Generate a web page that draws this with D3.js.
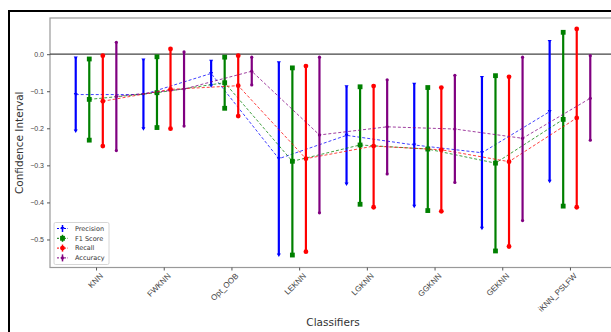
<!DOCTYPE html>
<html><head><meta charset="utf-8">
<script src="https://cdn.jsdelivr.net/npm/d3@7"></script>
<style>body{margin:0;background:#fff;}svg{display:block;font-family:"DejaVu Sans",sans-serif;}</style>
</head><body>
<svg id="c" width="611" height="332"></svg>
<script>
const categories = ["KNN","FWKNN","Opt_OOB","LEKNN","LGKNN","GGKNN","GEKNN","iKNN_PSLFW"];
const seriesNames = ["Precision","F1 Score","Recall","Accuracy"];
const seriesColors = ["#0000ff","#008000","#ff0000","#800080"];
// mean, lower, upper per classifier
const precisionMean = [-0.109,-0.109,-0.052,-0.282,-0.219,-0.245,-0.266,-0.155];
const precisionLow  = [-0.207,-0.201,-0.085,-0.542,-0.350,-0.410,-0.470,-0.343];
const precisionHigh = [-0.010,-0.016,-0.019,-0.023,-0.088,-0.081,-0.063,0.034];
const f1Mean = [-0.122,-0.104,-0.077,-0.289,-0.245,-0.256,-0.294,-0.176];
const f1Low  = [-0.232,-0.198,-0.146,-0.542,-0.405,-0.422,-0.531,-0.410];
const f1High = [-0.013,-0.007,-0.008,-0.037,-0.088,-0.090,-0.058,0.059];
const recallMean = [-0.127,-0.095,-0.085,-0.282,-0.248,-0.258,-0.290,-0.172];
const recallLow  = [-0.248,-0.201,-0.167,-0.533,-0.413,-0.424,-0.519,-0.413];
const recallHigh = [-0.004,0.014,-0.004,-0.032,-0.086,-0.090,-0.061,0.068];
const accuracyMean = [-0.114,-0.094,-0.046,-0.218,-0.196,-0.202,-0.227,-0.119];
const accuracyLow  = [-0.260,-0.194,-0.083,-0.428,-0.323,-0.346,-0.449,-0.232];
const accuracyHigh = [0.032,0.006,-0.008,-0.008,-0.069,-0.057,-0.008,-0.004];
const yTicks = [0.0,-0.1,-0.2,-0.3,-0.4,-0.5];
const offsets = [-0.3,-0.1,0.1,0.3];

const series = [
  {name:seriesNames[0],color:seriesColors[0],mean:precisionMean,low:precisionLow,high:precisionHigh,marker:"tri"},
  {name:seriesNames[1],color:seriesColors[1],mean:f1Mean,low:f1Low,high:f1High,marker:"sq"},
  {name:seriesNames[2],color:seriesColors[2],mean:recallMean,low:recallLow,high:recallHigh,marker:"circ"},
  {name:seriesNames[3],color:seriesColors[3],mean:accuracyMean,low:accuracyLow,high:accuracyHigh,marker:"dot"}
];

const svg = d3.select("#c");
const L=50, R=616, T=18, B=267.5;
const x = d3.scaleLinear().domain([-0.68, 7.68]).range([L, R]);
const y = d3.scaleLinear().domain([-0.5756, 0.0976]).range([B, T]);

svg.append("rect").attr("width",611).attr("height",332).attr("fill","#fff");
// outer frame
svg.append("rect").attr("x",9).attr("y",11).attr("width",700).attr("height",400)
  .attr("fill","none").attr("stroke","#000").attr("stroke-width",2);
// plot frame
svg.append("rect").attr("x",L).attr("y",T).attr("width",R-L).attr("height",B-T)
  .attr("fill","none").attr("stroke","#999").attr("stroke-width",1.2);

// zero line
svg.append("line").attr("x1",L).attr("x2",R).attr("y1",y(0)).attr("y2",y(0))
  .attr("stroke","#444").attr("stroke-width",1.1);

// y axis
const yAxis = d3.axisLeft(y).tickValues(yTicks).tickSize(3).tickPadding(3)
  .tickFormat(d => d3.format(".1f")(d).replace("-","\u2212"));
const yg = svg.append("g").attr("transform",`translate(${L},0)`).call(yAxis);
yg.select(".domain").remove();
yg.selectAll("line").attr("stroke","#555");
yg.selectAll("text").attr("font-size",7).attr("fill","#444");

// x axis
const xAxis = d3.axisBottom(x).tickValues(d3.range(categories.length)).tickSize(3).tickFormat(i => categories[i]);
const xg = svg.append("g").attr("transform",`translate(0,${B})`).call(xAxis);
xg.select(".domain").remove();
xg.selectAll("line").attr("stroke","#555");
xg.selectAll("text").attr("font-size",8).attr("fill","#444")
  .attr("text-anchor","end").attr("dy",null).attr("y",0)
  .attr("transform","translate(7,9) rotate(-45)");

// titles
svg.append("text").attr("x",(L+R)/2).attr("y",326).attr("text-anchor","middle")
  .attr("font-size",10.5).attr("fill","#333").text("Classifiers");
svg.append("text").attr("transform",`translate(23,${(T+B)/2}) rotate(-90)`).attr("text-anchor","middle")
  .attr("font-size",10.5).attr("fill","#333").text("Confidence Interval");

function drawMarker(g, type, cx, cy, color){
  if(type==="tri"){
    g.append("path").attr("d",`M${cx-2},${cy-1.5}L${cx+2},${cy-1.5}L${cx},${cy+2}Z`).attr("fill",color);
  } else if(type==="sq"){
    g.append("rect").attr("x",cx-2.4).attr("y",cy-2.4).attr("width",4.8).attr("height",4.8).attr("fill",color);
  } else if(type==="circ"){
    g.append("circle").attr("cx",cx).attr("cy",cy).attr("r",2.4).attr("fill",color);
  } else {
    g.append("circle").attr("cx",cx).attr("cy",cy).attr("r",1.6).attr("fill",color);
  }
}

const line = d3.line();
series.forEach((s,si)=>{
  const g = svg.append("g");
  const pts = s.mean.map((m,i)=>[x(i+offsets[si]), y(m)]);
  g.append("path").attr("d",line(pts)).attr("fill","none").attr("stroke",s.color)
    .attr("stroke-width",1).attr("stroke-dasharray","3,2").attr("opacity",0.75);
  s.mean.forEach((m,i)=>{
    const cx = x(i+offsets[si]);
    g.append("line").attr("x1",cx).attr("x2",cx).attr("y1",y(s.low[i])).attr("y2",y(s.high[i]))
      .attr("stroke",s.color).attr("stroke-width",2.2);
    drawMarker(g,s.marker,cx,y(s.low[i]),s.color);
    drawMarker(g,s.marker,cx,y(s.high[i]),s.color);
    drawMarker(g,s.marker,cx,y(m),s.color);
  });
});

// legend
const lg = svg.append("g");
lg.append("rect").attr("x",54).attr("y",222.5).attr("width",55).attr("height",42)
  .attr("fill","#fff").attr("stroke","#ccc").attr("stroke-width",0.8).attr("rx",1.5);
series.forEach((s,si)=>{
  const ly = 228.5 + si*9.8;
  lg.append("line").attr("x1",57).attr("x2",68).attr("y1",ly).attr("y2",ly)
    .attr("stroke",s.color).attr("stroke-width",1).attr("stroke-dasharray","2,1.5");
  lg.append("line").attr("x1",62.5).attr("x2",62.5).attr("y1",ly-3.5).attr("y2",ly+3.5)
    .attr("stroke",s.color).attr("stroke-width",1.5);
  drawMarker(lg,s.marker,62.5,ly,s.color);
  lg.append("text").attr("x",75).attr("y",ly+2.3).attr("font-size",6.5).attr("fill","#333").text(s.name);
});
</script>
</body></html>
